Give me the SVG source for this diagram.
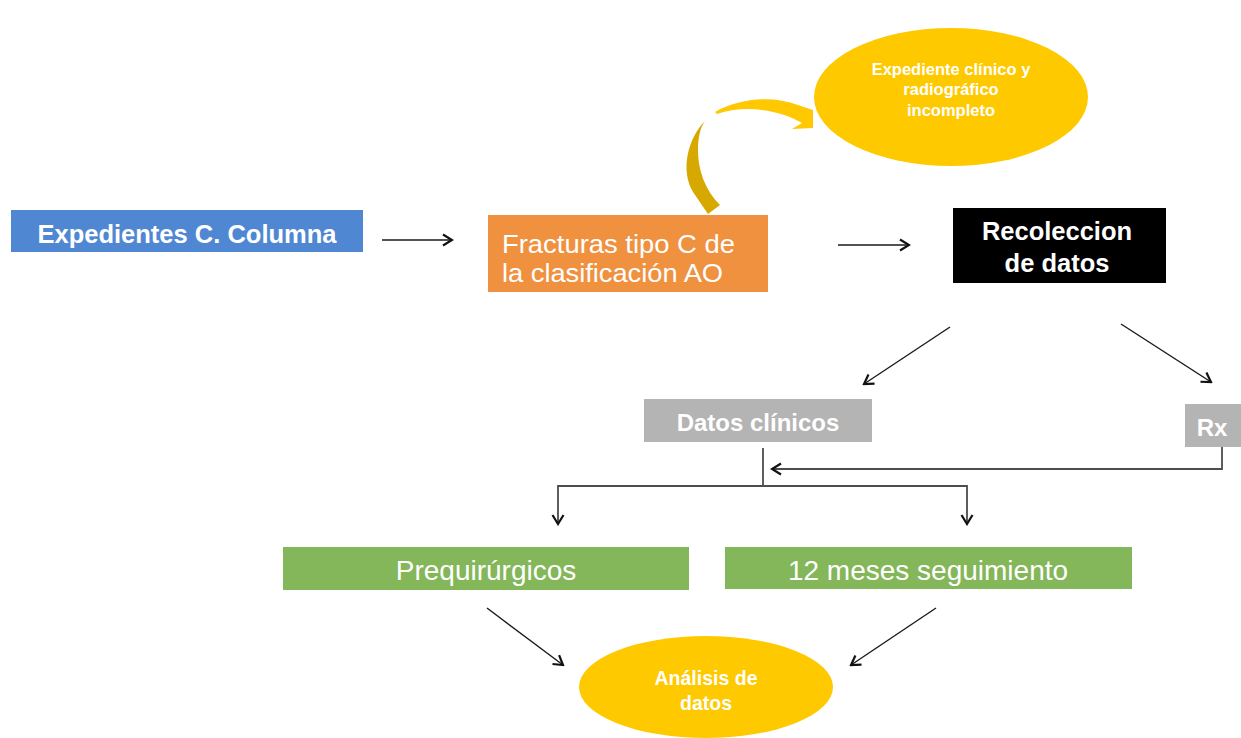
<svg xmlns="http://www.w3.org/2000/svg" width="1241" height="738" viewBox="0 0 1241 738">
<defs>
<style>
.t{font-family:"Liberation Sans",Arial,sans-serif;fill:#fff;text-anchor:middle}
.b{font-weight:bold}
.ar{fill:none;stroke:#1a1a1a;stroke-width:1.4}
.el{fill:none;stroke:#4d4d4d;stroke-width:1.8}
</style>
<marker id="ah" markerUnits="userSpaceOnUse" markerWidth="14" markerHeight="14" viewBox="0 0 14 14" refX="12" refY="7" orient="auto-start-reverse">
<path d="M3,1.5 L12,7 L3,12.5" fill="none" stroke="#111" stroke-width="2.2" stroke-linejoin="miter"/>
</marker>
</defs>
<rect width="1241" height="738" fill="#fff"/>

<g id="expedientes">
<rect x="11" y="210" width="352" height="42" fill="#5087D2"/>
<text class="t b" x="187" y="243" font-size="25.5">Expedientes C. Columna</text>
</g>

<g id="fracturas">
<rect x="488" y="215" width="280" height="77" fill="#F0913F"/>
<text class="t" x="502" y="253" font-size="25.5" textLength="233" lengthAdjust="spacingAndGlyphs" style="text-anchor:start">Fracturas tipo C de</text>
<text class="t" x="502" y="282" font-size="25.5" textLength="221" lengthAdjust="spacingAndGlyphs" style="text-anchor:start">la clasificación AO</text>
</g>

<g id="curved-arrow">
<path d="M705,121 C688,138 680,170 693,192 L708,214 L720,205 C705,190 698,170 698,150 C698,138 700,128 705,121 Z" fill="#D6A800"/>
<path d="M715,112 C735,100 770,94 798,105 L813,110 L813,128 L792,129 L802,123 C780,110 745,104 717,114 Z" fill="#FFC800"/>
</g>

<g id="expediente-incompleto">
<ellipse cx="951" cy="97" rx="137" ry="69" fill="#FFC900"/>
<text class="t b" x="951" y="75" font-size="16.5">Expediente clínico y</text>
<text class="t b" x="951" y="95" font-size="16.5">radiográfico</text>
<text class="t b" x="951" y="116" font-size="16.5">incompleto</text>
</g>

<g id="recoleccion">
<rect x="953" y="208" width="213" height="75" fill="#000"/>
<text class="t b" x="1057" y="240" font-size="25.5">Recoleccion</text>
<text class="t b" x="1057" y="272" font-size="25.5">de datos</text>
</g>

<g id="datos-clinicos">
<rect x="644" y="399" width="228" height="43" fill="#B4B4B4"/>
<text class="t b" x="758" y="431" font-size="24">Datos clínicos</text>
</g>

<g id="rx">
<rect x="1185" y="404" width="56" height="43" fill="#B4B4B4"/>
<text class="t b" x="1212" y="436" font-size="24">Rx</text>
</g>

<g id="prequirurgicos">
<rect x="283" y="547" width="406" height="43" fill="#84B65A"/>
<text class="t" x="486" y="580" font-size="28">Prequirúrgicos</text>
</g>

<g id="seguimiento">
<rect x="725" y="547" width="407" height="42" fill="#84B65A"/>
<text class="t" x="928" y="580" font-size="28">12 meses seguimiento</text>
</g>

<g id="analisis">
<ellipse cx="706" cy="687" rx="127" ry="51" fill="#FFC900"/>
<text class="t b" x="706" y="685" font-size="19.5">Análisis de</text>
<text class="t b" x="706" y="710" font-size="19.5">datos</text>
</g>

<g id="connectors">
<path class="ar" d="M382,240 H452" marker-end="url(#ah)"/>
<path class="ar" d="M838,245 H909" marker-end="url(#ah)"/>
<path class="ar" d="M950,327 L864,384" marker-end="url(#ah)"/>
<path class="ar" d="M1121,324 L1211,382" marker-end="url(#ah)"/>
<path class="el" d="M1222,447 V469 H772" marker-end="url(#ah)"/>
<path class="el" d="M763,448 V486"/>
<path class="el" d="M558,524 V486 H967 V524" marker-start="url(#ah)" marker-end="url(#ah)"/>
<path class="ar" d="M487,608 L563,665" marker-end="url(#ah)"/>
<path class="ar" d="M936,608 L851,665" marker-end="url(#ah)"/>
</g>
</svg>
